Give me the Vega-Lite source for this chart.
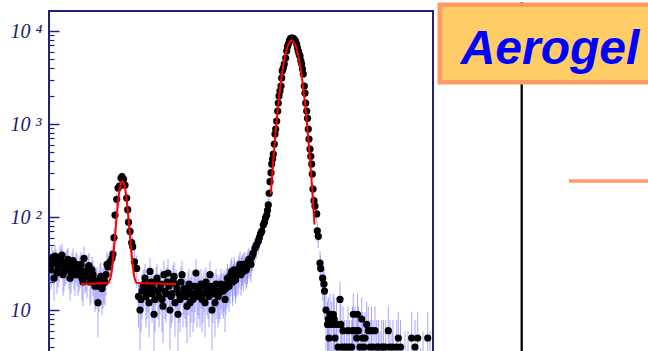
{
  "$schema": "https://vega.github.io/schema/vega-lite/v6.json",
  "padding": {"left": 0, "top": 0, "right": 0, "bottom": 0},
  "background": "white",
  "spacing": 5,
  "bounds": "flush",
  "config": {"view": {"stroke": null}, "axis": {"labelFlush": false}},
  "datasets": {
    "counts": [
      {"ch":4,"n":30,"e":11},{"ch":8,"n":36,"e":12},{"ch":12,"n":22,"e":9.4},{"ch":16,"n":33,"e":11.5},
      {"ch":20,"n":28,"e":10.6},{"ch":24,"n":37,"e":12.2},{"ch":28,"n":39,"e":12.5},{"ch":32,"n":26,"e":10.2},
      {"ch":36,"n":30,"e":11},{"ch":40,"n":35,"e":11.8},{"ch":44,"n":22,"e":9.4},{"ch":48,"n":30,"e":11},
      {"ch":52,"n":27,"e":10.4},{"ch":56,"n":31,"e":11.1},{"ch":60,"n":24,"e":9.8},{"ch":64,"n":28,"e":10.6},
      {"ch":68,"n":22,"e":9.4},{"ch":72,"n":36,"e":12},{"ch":76,"n":26,"e":10.2},{"ch":80,"n":29,"e":10.8},
      {"ch":84,"n":20,"e":8.9},{"ch":88,"n":27,"e":10.4},{"ch":92,"n":21,"e":9.2},{"ch":96,"n":19,"e":8.7},
      {"ch":100,"n":12,"e":6.9},{"ch":104,"n":22,"e":9.4},{"ch":108,"n":17,"e":8.2},{"ch":112,"n":21,"e":9.2},
      {"ch":116,"n":24,"e":9.8},
      {"ch":6,"n":27,"e":10.4},{"ch":10,"n":32,"e":11.3},{"ch":14,"n":38,"e":12.3},{"ch":18,"n":25,"e":10},
      {"ch":22,"n":31,"e":11.1},{"ch":26,"n":34,"e":11.7},{"ch":30,"n":24,"e":9.8},{"ch":34,"n":29,"e":10.8},
      {"ch":38,"n":33,"e":11.5},{"ch":42,"n":27,"e":10.4},{"ch":46,"n":25,"e":10},{"ch":50,"n":34,"e":11.7},
      {"ch":54,"n":24,"e":9.8},{"ch":58,"n":29,"e":10.8},{"ch":62,"n":26,"e":10.2},{"ch":66,"n":31,"e":11.1},
      {"ch":70,"n":20,"e":8.9},{"ch":74,"n":25,"e":10},{"ch":78,"n":23,"e":9.6},{"ch":82,"n":30,"e":11},
      {"ch":86,"n":21,"e":9.2},{"ch":90,"n":24,"e":9.8},{"ch":94,"n":18,"e":8.5},{"ch":98,"n":20,"e":8.9},
      {"ch":102,"n":18,"e":8.5},{"ch":106,"n":23,"e":9.6},{"ch":110,"n":19,"e":8.7},{"ch":114,"n":20,"e":8.9},
      {"ch":118,"n":31,"e":11.1},{"ch":120,"n":29,"e":10.8},{"ch":124,"n":33,"e":11.5},{"ch":128,"n":36,"e":12},
      {"ch":130,"n":40,"e":12.6},{"ch":132,"n":60,"e":15.5},{"ch":134,"n":105,"e":20.5},{"ch":137.4,"n":155,"e":24.9},
      {"ch":140,"n":205,"e":28.6},{"ch":143,"n":215,"e":29.3},{"ch":146,"n":262,"e":32.4},{"ch":148,"n":272,"e":33},
      {"ch":151,"n":255,"e":31.9},{"ch":154,"n":220,"e":29.7},{"ch":157.4,"n":160,"e":25.3},{"ch":159.4,"n":120,"e":21.9},
      {"ch":161,"n":88,"e":18.8},{"ch":164,"n":70,"e":16.7},{"ch":167.4,"n":53,"e":14.6},{"ch":169.4,"n":48,"e":13.9},
      {"ch":173,"n":33,"e":11.5},{"ch":177.4,"n":28,"e":10.6},{"ch":181,"n":14,"e":7.5},
      {"ch":184,"n":10,"e":6.3},{"ch":188,"n":16,"e":8},{"ch":192,"n":19,"e":8.7},{"ch":196,"n":14,"e":7.5},
      {"ch":200,"n":18,"e":8.5},{"ch":204,"n":26,"e":10.2},{"ch":208,"n":15,"e":7.7},{"ch":212,"n":9,"e":6},
      {"ch":216,"n":20,"e":8.9},{"ch":220,"n":16,"e":8},{"ch":224,"n":17,"e":8.2},{"ch":228,"n":13,"e":7.2},
      {"ch":232,"n":24,"e":9.8},{"ch":236,"n":15,"e":7.7},{"ch":240,"n":25,"e":10},{"ch":244,"n":10,"e":6.3},
      {"ch":248,"n":15,"e":7.7},{"ch":252,"n":23,"e":9.6},{"ch":256,"n":19,"e":8.7},{"ch":260,"n":9,"e":6},
      {"ch":264,"n":13,"e":7.2},{"ch":268,"n":24,"e":9.8},{"ch":272,"n":17,"e":8.2},{"ch":276,"n":14,"e":7.5},
      {"ch":280,"n":17,"e":8.2},{"ch":284,"n":12,"e":6.9},{"ch":288,"n":18,"e":8.5},{"ch":292,"n":15,"e":7.7},
      {"ch":296,"n":25,"e":10},{"ch":300,"n":17,"e":8.2},{"ch":304,"n":14,"e":7.5},{"ch":308,"n":13,"e":7.2},
      {"ch":312,"n":18,"e":8.5},{"ch":316,"n":20,"e":8.9},{"ch":320,"n":16,"e":8},{"ch":324,"n":24,"e":9.8},
      {"ch":328,"n":10,"e":6.3},{"ch":332,"n":17,"e":8.2},{"ch":336,"n":19,"e":8.7},
      {"ch":186,"n":13,"e":7.2},{"ch":190,"n":18,"e":8.5},{"ch":194,"n":22,"e":9.4},{"ch":198,"n":16,"e":8},
      {"ch":202,"n":12,"e":6.9},{"ch":206,"n":20,"e":8.9},{"ch":210,"n":17,"e":8.2},{"ch":214,"n":13,"e":7.2},
      {"ch":218,"n":22,"e":9.4},{"ch":222,"n":14,"e":7.5},{"ch":226,"n":19,"e":8.7},{"ch":230,"n":11,"e":6.6},
      {"ch":234,"n":16,"e":8},{"ch":238,"n":20,"e":8.9},{"ch":242,"n":18,"e":8.5},{"ch":246,"n":14,"e":7.5},
      {"ch":250,"n":21,"e":9.2},{"ch":254,"n":12,"e":6.9},{"ch":258,"n":17,"e":8.2},{"ch":262,"n":15,"e":7.7},
      {"ch":266,"n":20,"e":8.9},{"ch":270,"n":14,"e":7.5},{"ch":274,"n":16,"e":8},{"ch":278,"n":11,"e":6.6},
      {"ch":282,"n":19,"e":8.7},{"ch":286,"n":15,"e":7.7},{"ch":290,"n":13,"e":7.2},{"ch":294,"n":18,"e":8.5},
      {"ch":298,"n":14,"e":7.5},{"ch":302,"n":16,"e":8},{"ch":306,"n":19,"e":8.7},{"ch":310,"n":15,"e":7.7},
      {"ch":314,"n":12,"e":6.9},{"ch":318,"n":17,"e":8.2},{"ch":322,"n":14,"e":7.5},{"ch":326,"n":18,"e":8.5},
      {"ch":330,"n":15,"e":7.7},{"ch":334,"n":12,"e":6.9},{"ch":338,"n":16,"e":8},
      {"ch":340,"n":14,"e":7.5},{"ch":344,"n":16,"e":8},{"ch":348,"n":17,"e":8.2},{"ch":350.6,"n":16,"e":8},
      {"ch":354,"n":13,"e":7.2},{"ch":357.4,"n":19,"e":8.7},{"ch":360,"n":20,"e":8.9},{"ch":364,"n":21,"e":9.2},
      {"ch":367.4,"n":26,"e":10.2},{"ch":370,"n":22,"e":9.4},{"ch":373,"n":24,"e":9.8},{"ch":376,"n":23,"e":9.6},
      {"ch":380.6,"n":25,"e":10},{"ch":384,"n":31,"e":11.1},{"ch":387,"n":27,"e":10.4},{"ch":390.6,"n":26,"e":10.2},
      {"ch":394,"n":30,"e":11},{"ch":397.4,"n":28,"e":10.6},{"ch":400,"n":33,"e":11.5},{"ch":404,"n":33,"e":11.5},
      {"ch":342,"n":15,"e":7.7},{"ch":346,"n":19,"e":8.7},{"ch":352,"n":18,"e":8.5},{"ch":355.6,"n":17,"e":8.2},
      {"ch":359,"n":22,"e":9.4},{"ch":362,"n":18,"e":8.5},{"ch":365.6,"n":24,"e":9.8},{"ch":369,"n":20,"e":8.9},
      {"ch":372,"n":27,"e":10.4},{"ch":375,"n":21,"e":9.2},{"ch":378,"n":24,"e":9.8},{"ch":382,"n":28,"e":10.6},
      {"ch":386,"n":24,"e":9.8},{"ch":389,"n":29,"e":10.8},{"ch":392,"n":31,"e":11.1},{"ch":396,"n":27,"e":10.4},
      {"ch":399,"n":30,"e":11},{"ch":402,"n":35,"e":11.8},{"ch":406,"n":31,"e":11.1},{"ch":409,"n":39,"e":12.5},
      {"ch":407.4,"n":37,"e":12.2},{"ch":410.6,"n":41,"e":12.8},{"ch":414,"n":46,"e":13.6},{"ch":417,"n":50,"e":14.1},
      {"ch":420.6,"n":55,"e":14.8},{"ch":422.6,"n":60,"e":15.5},{"ch":425,"n":66,"e":16.2},{"ch":427.4,"n":70,"e":16.7},
      {"ch":430.6,"n":82,"e":18.1},{"ch":433,"n":88,"e":18.8},{"ch":435,"n":98,"e":19.8},{"ch":437.4,"n":105,"e":20.5},
      {"ch":439,"n":118,"e":21.7},{"ch":440.6,"n":135,"e":23.2},{"ch":442.4,"n":180,"e":26.8},{"ch":444,"n":240,"e":31},
      {"ch":446,"n":300,"e":34.6},{"ch":447.4,"n":371,"e":38.5},{"ch":449,"n":420,"e":41},{"ch":450.6,"n":476,"e":43.6},
      {"ch":452.6,"n":609,"e":49.4},{"ch":454,"n":780,"e":55.9},{"ch":455.4,"n":883,"e":59.4},{"ch":457.4,"n":1077,"e":65.6},
      {"ch":459.4,"n":1380,"e":74.3},{"ch":460.6,"n":1682,"e":82},{"ch":462,"n":2000,"e":89.4},{"ch":464,"n":2264,"e":95.2},
      {"ch":466,"n":2563,"e":101},{"ch":467.4,"n":3126,"e":112},{"ch":468.6,"n":3718,"e":122},{"ch":470.6,"n":4000,"e":126},
      {"ch":472.6,"n":4418,"e":133},{"ch":475.4,"n":5126,"e":143},{"ch":477.4,"n":6095,"e":156},{"ch":479,"n":6800,"e":165},
      {"ch":480.6,"n":7244,"e":170},{"ch":483,"n":7900,"e":178},{"ch":485,"n":8300,"e":182},{"ch":487,"n":8400,"e":183},
      {"ch":489,"n":8400,"e":183},{"ch":491,"n":8300,"e":182},{"ch":493,"n":8100,"e":180},{"ch":495,"n":7800,"e":177},
      {"ch":497.4,"n":7244,"e":170},{"ch":499,"n":6600,"e":162},{"ch":500.6,"n":6095,"e":156},{"ch":502.4,"n":5600,"e":150},
      {"ch":504,"n":5383,"e":147},{"ch":505.6,"n":4800,"e":139},{"ch":507.4,"n":4418,"e":133},{"ch":509,"n":3900,"e":125},
      {"ch":510.6,"n":3451,"e":117},{"ch":512.6,"n":2563,"e":101},{"ch":514,"n":2152,"e":92.8},{"ch":515.4,"n":1682,"e":82},
      {"ch":517.4,"n":1380,"e":74.3},{"ch":519,"n":1150,"e":67.8},{"ch":520.6,"n":883,"e":59.4},{"ch":522,"n":690,"e":52.5},
      {"ch":524,"n":538,"e":46.4},{"ch":525.6,"n":450,"e":42.4},{"ch":527.4,"n":371,"e":38.5},{"ch":528.6,"n":290,"e":34},
      {"ch":530,"n":200,"e":28.3},{"ch":532,"n":150,"e":24.5},{"ch":534,"n":131,"e":22.9},{"ch":537.4,"n":108,"e":20.8},
      {"ch":538.6,"n":71,"e":16.9},{"ch":540.6,"n":62,"e":15.7},{"ch":544,"n":32,"e":11.3},{"ch":545.4,"n":28,"e":10.6},
      {"ch":549.4,"n":22,"e":9.4},{"ch":552,"n":19,"e":8.7},{"ch":553,"n":16,"e":8},{"ch":556,"n":10,"e":6.3},
      {"ch":559,"n":7,"e":5.3},{"ch":560.6,"n":8,"e":5.7},{"ch":562,"n":5,"e":4.5},{"ch":564,"n":9,"e":6},
      {"ch":567.4,"n":7,"e":5.3},{"ch":570.6,"n":9,"e":6},{"ch":572.4,"n":8,"e":5.7},{"ch":574,"n":5,"e":4.5},
      {"ch":577,"n":7,"e":5.3},{"ch":580,"n":4,"e":3.8},{"ch":584,"n":13,"e":7.2},{"ch":585.6,"n":7,"e":5.3},
      {"ch":587.4,"n":4,"e":3.8},{"ch":590,"n":6,"e":4.9},{"ch":593,"n":4,"e":3.8},{"ch":597.4,"n":4,"e":3.8},
      {"ch":600,"n":6,"e":4.9},{"ch":603,"n":4,"e":3.8},{"ch":607.4,"n":4,"e":3.8},{"ch":609,"n":6,"e":4.9},
      {"ch":610.6,"n":9,"e":6},{"ch":614,"n":6,"e":4.9},{"ch":617.4,"n":5,"e":4.5},{"ch":619,"n":9,"e":6},
      {"ch":620.6,"n":6,"e":4.9},{"ch":624,"n":4,"e":3.8},{"ch":627.4,"n":8,"e":5.7},{"ch":629,"n":5,"e":4.5},
      {"ch":632,"n":4,"e":3.8},{"ch":634,"n":5,"e":4.5},{"ch":637.4,"n":7,"e":5.3},{"ch":640.6,"n":6,"e":4.9},
      {"ch":644,"n":4,"e":3.8},{"ch":647,"n":6,"e":4.9},{"ch":650,"n":4,"e":3.8},{"ch":654,"n":6,"e":4.9},
      {"ch":657.4,"n":4,"e":3.8},{"ch":661,"n":4,"e":3.8},{"ch":664,"n":3,"e":2.9},{"ch":667.4,"n":4,"e":3.8},
      {"ch":671,"n":4,"e":3.8},{"ch":675.4,"n":4,"e":3.8},{"ch":680.6,"n":6,"e":4.9},{"ch":684,"n":4,"e":3.8},
      {"ch":688,"n":3,"e":2.9},{"ch":690,"n":4,"e":3.8},{"ch":694,"n":2,"e":1.9},{"ch":697.4,"n":4,"e":3.8},
      {"ch":700.6,"n":5,"e":4.5},{"ch":705,"n":4,"e":3.8},{"ch":710,"n":2,"e":1.9},{"ch":714,"n":3,"e":2.9},
      {"ch":720,"n":3,"e":2.9},{"ch":727.4,"n":5,"e":4.5},{"ch":734,"n":4,"e":3.8},{"ch":739.4,"n":5,"e":4.5},
      {"ch":745,"n":2,"e":1.9},{"ch":750,"n":3,"e":2.9},{"ch":759.4,"n":5,"e":4.5},{"ch":764,"n":3,"e":2.9}
    ],
    "fit": [
      {"seg":1,"ch":66,"n":19},{"seg":1,"ch":120,"n":19.5},{"seg":1,"ch":124,"n":21.3},{"seg":1,"ch":126,"n":23.6},
      {"seg":1,"ch":128,"n":28},{"seg":1,"ch":130,"n":35},{"seg":1,"ch":132,"n":46},{"seg":1,"ch":134,"n":62},
      {"seg":1,"ch":136,"n":84},{"seg":1,"ch":138,"n":111},{"seg":1,"ch":140,"n":143},{"seg":1,"ch":142,"n":176},
      {"seg":1,"ch":144,"n":206},{"seg":1,"ch":146,"n":230},{"seg":1,"ch":148,"n":242},{"seg":1,"ch":150,"n":242},
      {"seg":1,"ch":152,"n":230},{"seg":1,"ch":154,"n":206},{"seg":1,"ch":156,"n":176},{"seg":1,"ch":158,"n":143},
      {"seg":1,"ch":160,"n":111},{"seg":1,"ch":162,"n":84},{"seg":1,"ch":164,"n":62},{"seg":1,"ch":166,"n":46},
      {"seg":1,"ch":168,"n":35},{"seg":1,"ch":170,"n":28},{"seg":1,"ch":172,"n":23.6},{"seg":1,"ch":174,"n":21.3},
      {"seg":1,"ch":178,"n":19.5},{"seg":1,"ch":256,"n":19},
      {"seg":2,"ch":445.8,"n":178},{"seg":2,"ch":448,"n":262},{"seg":2,"ch":452,"n":506},{"seg":2,"ch":456,"n":909},
      {"seg":2,"ch":460,"n":1523},{"seg":2,"ch":464,"n":2378},{"seg":2,"ch":468,"n":3461},{"seg":2,"ch":472,"n":4695},
      {"seg":2,"ch":476,"n":5941},{"seg":2,"ch":480,"n":7006},{"seg":2,"ch":484,"n":7702},{"seg":2,"ch":487.4,"n":7900},
      {"seg":2,"ch":490,"n":7784},{"seg":2,"ch":494,"n":7181},{"seg":2,"ch":498,"n":6176},{"seg":2,"ch":502,"n":4950},
      {"seg":2,"ch":506,"n":3698},{"seg":2,"ch":510,"n":2577},{"seg":2,"ch":514,"n":1674},{"seg":2,"ch":518,"n":1013},
      {"seg":2,"ch":522,"n":572},{"seg":2,"ch":526,"n":301},{"seg":2,"ch":530,"n":148},{"seg":2,"ch":533,"n":83}
    ]
  },
  "hconcat": [
    {
      "width": 384,
      "height": 345,
      "view": {"stroke": "#22227a", "strokeWidth": 2},
      "resolve": {"axis": {"y": "independent"}},
      "layer": [
        {
          "data": {"name": "counts"},
          "mark": {"type": "errorbar", "color": "#6a6aff", "opacity": 0.6, "thickness": 1, "clip": true},
          "encoding": {
            "x": {"field": "ch", "type": "quantitative", "scale": {"domain": [2, 770], "nice": false, "zero": false}, "axis": null},
            "y": {"field": "n", "type": "quantitative", "scale": {"type": "log", "domain": [3.202, 16413], "nice": false}, "axis": null},
            "yError": {"field": "e"}
          }
        },
        {
          "data": {"name": "counts"},
          "mark": {"type": "circle", "size": 52, "color": "#000000", "opacity": 1, "clip": true},
          "encoding": {
            "x": {"field": "ch", "type": "quantitative", "scale": {"domain": [2, 770], "nice": false, "zero": false}, "axis": null},
            "y": {
              "field": "n", "type": "quantitative",
              "scale": {"type": "log", "domain": [3.202, 16413], "nice": false},
              "axis": {
                "orient": "left", "values": [10, 100, 1000, 10000],
                "labelExpr": "datum.value == 10000 ? '10 ⁴' : datum.value == 1000 ? '10 ³' : datum.value == 100 ? '10 ²' : '10'",
                "tickSize": -10, "tickWidth": 1.5, "tickColor": "#22227a",
                "domain": false, "grid": false, "title": null,
                "labelFont": "Liberation Serif", "labelFontStyle": "italic", "labelFontSize": 20,
                "labelColor": "#1e1e70", "labelPadding": 49, "labelBaseline": "middle", "labelAlign": "left",
                "labelOverlap": false, "minExtent": 48, "maxExtent": 48
              }
            }
          }
        },
        {
          "data": {"name": "fit"},
          "mark": {"type": "line", "color": "#ff0000", "strokeWidth": 2, "clip": true, "interpolate": "monotone"},
          "encoding": {
            "x": {"field": "ch", "type": "quantitative", "scale": {"domain": [2, 770], "nice": false, "zero": false}, "axis": null},
            "y": {
              "field": "n", "type": "quantitative",
              "scale": {"type": "log", "domain": [3.202, 16413], "nice": false},
              "axis": {
                "orient": "left",
                "values": [4, 5, 6, 7, 8, 9, 20, 30, 40, 50, 60, 70, 80, 90, 200, 300, 400, 500, 600, 700, 800, 900, 2000, 3000, 4000, 5000, 6000, 7000, 8000, 9000],
                "tickSize": -5, "tickWidth": 1.2, "tickColor": "#22227a",
                "labels": false, "domain": false, "grid": false, "title": null,
                "minExtent": 0, "maxExtent": 0
              }
            },
            "detail": {"field": "seg", "type": "nominal"}
          }
        }
      ]
    },
    {
      "width": 215,
      "height": 345,
      "view": {"stroke": null},
      "data": {"values": [{}]},
      "layer": [
        {
          "mark": {"type": "rule", "color": "#000000", "strokeWidth": 2.3},
          "encoding": {
            "x": {"datum": 0.3893, "type": "quantitative", "scale": {"domain": [0, 1], "nice": false}, "axis": null},
            "y": {"datum": -0.0257, "type": "quantitative", "scale": {"domain": [0, 1], "nice": false, "reverse": true}, "axis": null},
            "y2": {"datum": 1}
          }
        },
        {
          "mark": {"type": "rect", "fill": "#ffcc66", "stroke": "#ff9966", "strokeWidth": 4.5},
          "encoding": {
            "x": {"datum": 0.0084, "type": "quantitative", "scale": {"domain": [0, 1], "nice": false}, "axis": null},
            "x2": {"datum": 1.05},
            "y": {"datum": -0.0181, "type": "quantitative", "scale": {"domain": [0, 1], "nice": false, "reverse": true}, "axis": null},
            "y2": {"datum": 0.2065}
          }
        },
        {
          "mark": {"type": "text", "text": "Aerogel", "font": "Liberation Sans", "fontSize": 48, "fontWeight": "bold", "fontStyle": "italic", "color": "#0000ff", "align": "center", "baseline": "alphabetic"},
          "encoding": {
            "x": {"datum": 0.5209, "type": "quantitative", "scale": {"domain": [0, 1], "nice": false}, "axis": null},
            "y": {"datum": 0.1536, "type": "quantitative", "scale": {"domain": [0, 1], "nice": false, "reverse": true}, "axis": null}
          }
        },
        {
          "mark": {"type": "rule", "color": "#ff9966", "strokeWidth": 3.3},
          "encoding": {
            "x": {"datum": 0.6093, "type": "quantitative", "scale": {"domain": [0, 1], "nice": false}, "axis": null},
            "x2": {"datum": 1.0},
            "y": {"datum": 0.4928, "type": "quantitative", "scale": {"domain": [0, 1], "nice": false, "reverse": true}, "axis": null}
          }
        }
      ]
    }
  ]
}
